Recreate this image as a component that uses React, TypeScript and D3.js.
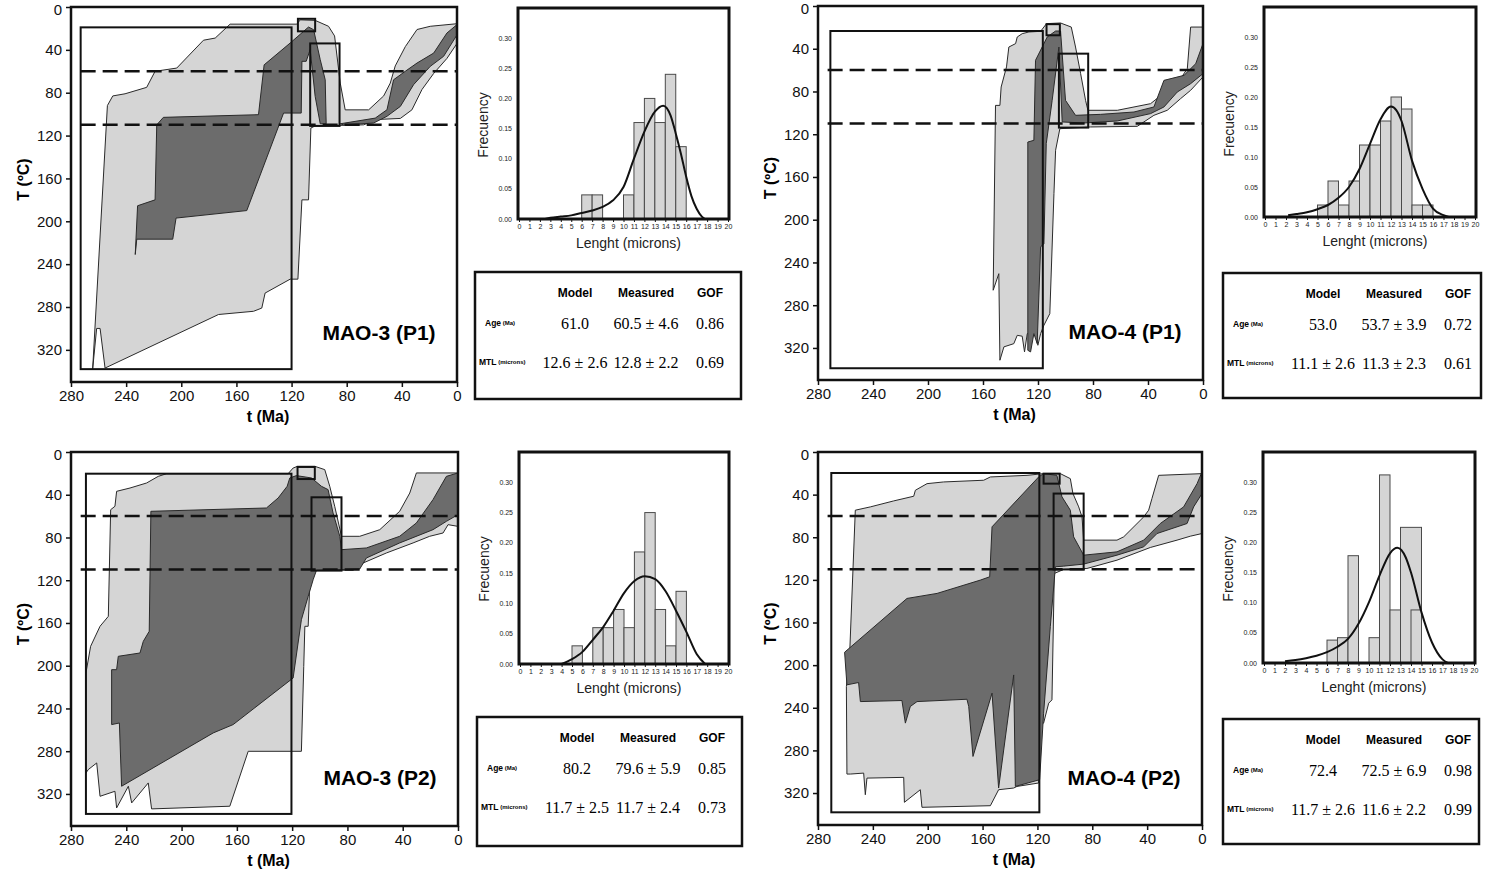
import React, { useEffect, useRef } from "react";
import * as d3 from "d3";

type Pt = [number, number];

// ---- MAO-3 (P1) : envelopes are [t (Ma), T (ºC)] ----
const mao3p1Acceptable: Pt[] = [
  [255.3, 337], [258.9, 300], [261.4, 300], [264.3, 338], [253.6, 92], [249.7, 83], [240.8, 81],
  [225.1, 75], [219, 60], [203.3, 57], [183.9, 31], [175.4, 29], [164.6, 16], [116.2, 16],
  [113.7, 12], [102.9, 12.5], [93.2, 18], [88.8, 27], [84.7, 71], [81.1, 96], [64.1, 96],
  [53.2, 83], [48.4, 71], [44.8, 55], [37.5, 37], [29, 21], [19.4, 18], [0, 15.6], [0, 34],
  [7.3, 48], [16.9, 62], [25.4, 77], [32.7, 96], [41.1, 104], [58.1, 105], [67.8, 110],
  [102.9, 111], [106, 113], [107.7, 180], [112.5, 180], [115.4, 254], [121, 254], [139.2, 267],
  [141.6, 281], [147.6, 284], [173, 287],
];
const mao3p1Good: Pt[][] = [
  [
    [233.4, 231], [231.7, 185.5], [219, 180], [217.8, 110], [213, 103], [144, 100.5], [139.9, 54],
    [121, 33.6], [107.7, 18.7], [104, 21.2], [99.2, 49.2], [95.6, 67.9], [94.9, 109], [99.2, 109],
    [102.9, 83.4], [106.5, 39.8], [109.4, 50.7], [112.5, 50.7], [113, 99], [125.8, 99],
    [152.5, 190], [203.8, 197], [206.2, 216.7], [232.3, 216.7],
  ],
  [
    [84.7, 109], [59.3, 103.7], [50.8, 95.9], [46, 67.9], [37.5, 60], [29, 52.3], [16.9, 43],
    [7.3, 24.3], [0.5, 17], [0, 26], [9.7, 46], [19.4, 55.4], [31.5, 72.5], [41.1, 92.8],
    [50.8, 102], [60.5, 108.3], [82.3, 110],
  ],
];
const mao3p1Boxes = [[273, 120, 19, 338], [115.4, 102.9, 11, 22.7], [106.5, 85.2, 34, 111]];
const mao3p1Bins = [[6, 7, 0.04], [7, 8, 0.04], [10, 11, 0.04], [11, 12, 0.16], [12, 13, 0.2], [13, 14, 0.16], [14, 15, 0.24], [15, 16, 0.12]];
const mao3p1Fit: Pt[] = [
  [2.5, 0], [3, 0.002], [4, 0.004], [5, 0.006], [6, 0.01], [7, 0.014], [8, 0.02], [9, 0.031],
  [10, 0.053], [11, 0.1], [12, 0.145], [13, 0.178], [13.8, 0.188], [14.5, 0.172], [15, 0.142],
  [15.5, 0.108], [16, 0.07], [16.5, 0.038], [17, 0.017], [17.5, 0.004], [17.8, 0],
];
const mao3p1Age = ["61.0", "60.5 ± 4.6", "0.86"];
const mao3p1Mtl = ["12.6 ± 2.6", "12.8 ± 2.2", "0.69"];

// ---- MAO-4 (P1) ----
const mao4p1Acceptable: Pt[] = [
  [147.7, 331.5], [148.5, 250.5], [152.6, 266], [150.9, 93], [147.7, 93], [146.8, 75.8],
  [142.9, 57], [141.2, 38.4], [136.3, 35.2], [135.1, 29], [131.5, 25.9], [126.6, 24.3],
  [118.1, 23.7], [113.8, 16.5], [103.6, 15.9], [95.8, 19.7], [92.7, 38.4], [89, 63.3],
  [85.4, 88.3], [83.7, 97.6], [62.3, 97.6], [38.1, 91.4], [26, 78.9], [16.3, 68], [11.4, 58.6],
  [9, 19.7], [0, 19.7], [0, 66.4], [9, 78.9], [16.3, 86.7], [26, 97.6], [35.7, 102.3],
  [47.8, 112.6], [81.8, 113.2], [104.1, 114.8], [107.2, 135], [108.4, 175.6], [111.4, 287.9],
  [115.7, 298.8], [118.1, 306.6], [120.1, 317.5], [121.8, 304.4], [127.8, 306.6], [129.8, 323.7],
  [131.5, 309], [135.1, 308.2], [137.6, 316], [144.8, 319],
];
const mao4p1Good: Pt[][] = [
  [
    [127.4, 322.2], [127.4, 127.3], [123, 125.7], [121.8, 50.8], [113.3, 29], [107.2, 23.4],
    [103.6, 23.4], [100, 88.3], [92.7, 102.3], [74.5, 101.4], [50.2, 99.2], [35.7, 94.5],
    [28.4, 69.6], [13.8, 64.9], [5.3, 54], [0, 35.2], [0, 63.3], [9, 72.7], [18.7, 80.5],
    [28.4, 94.5], [38.1, 100.7], [62.3, 107.6], [86.6, 109.5], [102.4, 108.5], [104.8, 38.4],
    [109.7, 88.3], [114, 128.8], [115.7, 222.4], [118.1, 225.5], [120.6, 316], [123, 306.6],
    [125.4, 323.7],
  ],
];
const mao4p1Boxes = [[271, 116.5, 23.4, 339], [113.8, 104.1, 17, 27.4], [104.8, 83.5, 44.6, 113.8]];
const mao4p1Bins = [[5, 6, 0.02], [6, 7, 0.06], [7, 8, 0.02], [8, 9, 0.06], [9, 10, 0.12], [10, 11, 0.12], [11, 12, 0.16], [12, 13, 0.2], [13, 14, 0.18], [14, 15, 0.02], [15, 16, 0.02]];
const mao4p1Fit: Pt[] = [
  [2.2, 0.003], [3, 0.005], [4, 0.008], [5, 0.013], [6, 0.02], [7, 0.032], [8, 0.05], [9, 0.08],
  [10, 0.122], [11, 0.163], [12, 0.184], [12.5, 0.178], [13, 0.16], [14, 0.094], [15, 0.047],
  [16, 0.014], [17, 0.003], [17.5, 0],
];
const mao4p1Age = ["53.0", "53.7 ± 3.9", "0.72"];
const mao4p1Mtl = ["11.1 ± 2.6", "11.3 ± 2.3", "0.61"];

// ---- MAO-3 (P2) ----
const mao3p2Acceptable: Pt[] = [
  [269.2, 300.4], [269.2, 206.8], [265.8, 181.8], [259, 163.1], [253, 153.8], [251.3, 54],
  [248.2, 50.8], [247, 36.8], [237.3, 33.7], [225.3, 29], [216.9, 22.8], [210.8, 20.3],
  [122.9, 20.3], [119.3, 15], [116.1, 13.4], [103.6, 13.4], [96.4, 16.5], [92.8, 32.1],
  [89.2, 50.8], [84.3, 78.9], [71.1, 78.9], [56.6, 72.7], [42.2, 55.5], [34.9, 38.4],
  [30.1, 19.6], [0, 19.6], [0, 69.6], [7.2, 68], [10.8, 75.8], [20.5, 78.9], [32.5, 85.1],
  [51.8, 94.5], [68.7, 103.9], [75.9, 110.7], [104.8, 110.7], [107.2, 122.6], [108.4, 163.1],
  [110.8, 163.1], [111.6, 200.6], [113.3, 280.1], [151.8, 280.1], [165.1, 331.5], [221.7, 334],
  [224.1, 309.7], [236.1, 328.4], [238.5, 312.8], [247, 333.1], [248.2, 317.5], [259, 322.2],
  [261.4, 291], [267.5, 297.2],
];
const mao3p2Good: Pt[][] = [
  [
    [243.4, 312.8], [245, 253.6], [250.6, 255.1], [250.6, 203.7], [247, 203.7], [245.8, 191.2],
    [230.1, 188.1], [227.7, 177.2], [223.4, 167.8], [222.2, 55.5], [138.6, 52.4], [130.1, 43],
    [123.6, 32.1], [121.7, 24.3], [116.9, 22.1], [106, 24.3], [98.8, 32.1], [94, 35.2],
    [90.4, 57.1], [85.5, 78.9], [84.3, 91.4], [66.3, 89.8], [42.2, 78.9], [30.1, 66.4],
    [18.1, 44.6], [8.4, 22.8], [0, 19.6], [0, 58.6], [8.4, 64.9], [18.1, 72.7], [42.2, 85.1],
    [66.3, 99.2], [71.1, 109.5], [102.4, 110.7], [104.8, 119.5], [108.4, 135.1], [113.3, 156.9],
    [119.3, 211.5], [162.7, 255.1], [177.1, 262.9],
  ],
];
const mao3p2Boxes = [[269.2, 120.5, 20.3, 338.7], [116.1, 103.6, 14, 25.3], [106, 84.3, 42.4, 111]];
const mao3p2Bins = [[5, 6, 0.03], [7, 8, 0.06], [8, 9, 0.06], [9, 10, 0.09], [10, 11, 0.06], [11, 12, 0.185], [12, 13, 0.25], [13, 14, 0.09], [14, 15, 0.03], [15, 16, 0.12]];
const mao3p2Fit: Pt[] = [
  [4, 0], [5, 0.008], [6, 0.02], [7, 0.04], [8, 0.061], [9, 0.088], [10, 0.117], [11, 0.137],
  [12, 0.145], [13, 0.14], [14, 0.12], [15, 0.088], [16, 0.053], [17, 0.016], [17.8, 0],
];
const mao3p2Age = ["80.2", "79.6 ± 5.9", "0.85"];
const mao3p2Mtl = ["11.7 ± 2.5", "11.7 ± 2.4", "0.73"];

// ---- MAO-4 (P2) ----
const mao4p2Acceptable: Pt[] = [
  [258.9, 302.2], [259.3, 220.1], [256.9, 188.9], [252.8, 54.6], [241.8, 51.5], [224.8, 45.9],
  [210.2, 41.5], [209, 35.9], [200.5, 29.7], [188.4, 28.1], [159.2, 26.5], [154.3, 23.4],
  [127.6, 21.9], [115.5, 20.3], [103.3, 20.3], [96, 25], [94.1, 39], [89.9, 51.5], [87.5, 60.9],
  [86.3, 82.7], [62, 82.7], [57.1, 79.6], [42.5, 60.9], [38.9, 54.6], [36.5, 43.7], [31.6, 21.9],
  [0, 20.3], [0, 76.5], [8.5, 79], [18.2, 82.7], [37.7, 89.6], [62, 101.5], [83.9, 109.3],
  [100.9, 110.2], [107.7, 114], [109.4, 232.6], [111.8, 235.7], [115.5, 254.4], [119.1, 257.6],
  [119.1, 310.6], [134.9, 313.8], [137.3, 315.3], [148.3, 316.9], [154.3, 331.9], [204.2, 333.4],
  [205.4, 316.9], [217, 328.7], [217.5, 305.3], [244.3, 306], [245.5, 321.6], [246.7, 301.3],
  [256.4, 302.2],
];
const mao4p2Good: Pt[][] = [
  [
    [260.6, 187.9], [215.1, 137.4], [193.2, 132.7], [161.6, 120.2], [154.8, 117.1], [153.1, 70.2],
    [119.1, 23.4], [115.5, 20.3], [105.8, 21.9], [102.1, 42.1], [96, 54.6], [93.6, 79.6],
    [86.3, 96.8], [62, 93.7], [42.5, 82.7], [30.4, 67.1], [13.4, 51.5], [3.6, 29.7], [0, 18.7],
    [0, 39], [6.1, 51.5], [10.9, 67.1], [32.8, 76.5], [42.5, 89], [62, 96.8], [86.3, 105.2],
    [100.9, 107.1], [106.9, 107.7], [110.6, 163.9], [115.5, 245.1], [118.4, 307.5], [136.1, 313.8],
    [137.3, 209.2], [148.3, 315.3], [153.1, 226.3], [167, 285.7], [170.1, 238.8], [171.4, 232],
    [207.8, 234.2], [212.7, 238.8], [216.3, 254.4], [218.8, 233.2], [249.1, 234.2], [250.4, 216.3],
    [258.9, 218.5],
  ],
];
const mao4p2Boxes = [[270.3, 118.6, 19.7, 338.1], [115.5, 103.8, 20.3, 29.7], [108.2, 86.3, 39, 110.2]];
const mao4p2Bins = [[6, 7, 0.038], [7, 8, 0.042], [8, 9, 0.178], [10, 11, 0.042], [11, 12, 0.312], [12, 13, 0.088], [13, 15, 0.225], [14, 15, 0.088]];
const mao4p2Fit: Pt[] = [
  [2, 0.003], [3, 0.005], [4, 0.008], [5, 0.012], [6, 0.018], [7, 0.027], [8, 0.04], [9, 0.065],
  [10, 0.101], [11, 0.145], [12, 0.182], [12.7, 0.191], [13.5, 0.175], [14, 0.15], [15, 0.084],
  [16, 0.034], [17, 0.006], [17.5, 0],
];
const mao4p2Age = ["72.4", "72.5 ± 6.9", "0.98"];
const mao4p2Mtl = ["11.7 ± 2.6", "11.6 ± 2.2", "0.99"];

// shared ticks / reference lines
const timeTicks = [280, 240, 200, 160, 120, 80, 40, 0];
const tempTicks = [0, 40, 80, 120, 160, 200, 240, 280, 320];
const pazLines = [60, 110];
const lengthTicks = [0, 1, 2, 3, 4, 5, 6, 7, 8, 9, 10, 11, 12, 13, 14, 15, 16, 17, 18, 19, 20];
const freqTicks = [0, 0.05, 0.1, 0.15, 0.2, 0.25, 0.3];
const tableHeads = ["Model", "Measured", "GOF"];

const samples = [
  { name: "MAO-3 (P1)", acceptable: mao3p1Acceptable, good: mao3p1Good, boxes: mao3p1Boxes, bins: mao3p1Bins, fit: mao3p1Fit, age: mao3p1Age, mtl: mao3p1Mtl },
  { name: "MAO-4 (P1)", acceptable: mao4p1Acceptable, good: mao4p1Good, boxes: mao4p1Boxes, bins: mao4p1Bins, fit: mao4p1Fit, age: mao4p1Age, mtl: mao4p1Mtl },
  { name: "MAO-3 (P2)", acceptable: mao3p2Acceptable, good: mao3p2Good, boxes: mao3p2Boxes, bins: mao3p2Bins, fit: mao3p2Fit, age: mao3p2Age, mtl: mao3p2Mtl },
  { name: "MAO-4 (P2)", acceptable: mao4p2Acceptable, good: mao4p2Good, boxes: mao4p2Boxes, bins: mao4p2Bins, fit: mao4p2Fit, age: mao4p2Age, mtl: mao4p2Mtl },
];

// pixel layout of each block: frame [x0,x1,y0,y(350ºC)], hist [x0,x1,y0,y1], table [x,y,w,h]
const layouts = [
  { frame: [71, 457, 7, 382], hist: [518, 729, 8, 219], table: [475, 272, 266, 127] },
  { frame: [818, 1203, 6, 380], hist: [1264, 1476, 7, 217], table: [1223, 273, 258, 125] },
  { frame: [71, 458, 452, 826], hist: [519, 729, 452, 664], table: [477, 717, 265, 129] },
  { frame: [818, 1202, 452, 825], hist: [1263, 1475, 452, 663], table: [1223, 719, 256, 125] },
];

const SANS = "'Liberation Sans', Arial, Helvetica, sans-serif";
const SERIF = "'Liberation Serif', 'Times New Roman', serif";
const LIGHT = "#d5d5d5";
const DARK = "#6c6c6c";
const EDGE = "#2a2a2a";

const drawPanel = (svg, lay, s) => {
  const [x0, x1, y0, y1] = lay.frame;
  const x = d3.scaleLinear().domain([280, 0]).range([x0, x1]);
  const y = d3.scaleLinear().domain([0, 350]).range([y0, y1]);
  const poly = d3
    .line<Pt>()
    .x((d) => x(d[0]))
    .y((d) => y(d[1]))
    .curve(d3.curveLinearClosed);

  const g = svg.append("g");
  g.append("path")
    .attr("d", poly(s.acceptable))
    .attr("fill", LIGHT)
    .attr("stroke", EDGE)
    .attr("stroke-width", 1);

  s.good.forEach((p) => {
    g.append("path")
      .attr("d", poly(p))
      .attr("fill", DARK)
      .attr("stroke", EDGE)
      .attr("stroke-width", 1);
  });

  s.boxes.forEach((b) => {
    g.append("rect")
      .attr("x", x(b[0]))
      .attr("y", y(b[2]))
      .attr("width", x(b[1]) - x(b[0]))
      .attr("height", y(b[3]) - y(b[2]))
      .attr("fill", "none")
      .attr("stroke", "#111")
      .attr("stroke-width", 2);
  });

  pazLines.forEach((T) => {
    g.append("line")
      .attr("x1", x(273))
      .attr("x2", x(0))
      .attr("y1", y(T))
      .attr("y2", y(T))
      .attr("stroke", "#111")
      .attr("stroke-width", 2.5)
      .attr("stroke-dasharray", "15,7");
  });

  g.append("rect")
    .attr("x", x0)
    .attr("y", y0)
    .attr("width", x1 - x0)
    .attr("height", y1 - y0)
    .attr("fill", "none")
    .attr("stroke", "#111")
    .attr("stroke-width", 2.5);

  const xAxis = g
    .append("g")
    .attr("transform", `translate(0, ${y1})`)
    .call(d3.axisBottom(x).tickValues(timeTicks).tickSize(5).tickPadding(3).tickFormat(d3.format("d")));
  const yAxis = g
    .append("g")
    .attr("transform", `translate(${x0}, 0)`)
    .call(d3.axisLeft(y).tickValues(tempTicks).tickSize(5).tickPadding(4).tickFormat(d3.format("d")));
  [xAxis, yAxis].forEach((a) => {
    a.select(".domain").remove();
    a.selectAll("line").attr("stroke", "#111").attr("stroke-width", 1.5);
    a.selectAll("text").attr("font-size", 15).attr("font-family", SANS).attr("fill", "#111");
  });
  // keep the top "0" inside the page
  yAxis
    .selectAll("text")
    .filter((d) => d === 0)
    .attr("y", 3);

  g.append("text")
    .attr("x", (x0 + x1) / 2 + 4)
    .attr("y", y1 + 40)
    .attr("text-anchor", "middle")
    .attr("font-family", SANS)
    .attr("font-weight", "bold")
    .attr("font-size", 16)
    .text("t (Ma)");

  const cy = y0 + 0.46 * (y1 - y0);
  g.append("text")
    .attr("transform", `translate(${x0 - 48}, ${cy}) rotate(-90)`)
    .attr("text-anchor", "middle")
    .attr("dominant-baseline", "central")
    .attr("font-family", SANS)
    .attr("font-weight", "bold")
    .attr("font-size", 16)
    .text("T (ºC)");

  g.append("text")
    .attr("x", x1 - 78)
    .attr("y", y0 + 333)
    .attr("text-anchor", "middle")
    .attr("font-family", SANS)
    .attr("font-weight", "bold")
    .attr("font-size", 21)
    .text(s.name);
};

const drawHist = (svg, lay, s) => {
  const [x0, x1, y0, y1] = lay.hist;
  const x = d3.scaleLinear().domain([0, 20]).range([x0 + 1, x1 - 1]);
  const y = d3.scaleLinear().domain([0, 0.35]).range([y1, y0]);
  const g = svg.append("g");

  s.bins.forEach((b) => {
    g.append("rect")
      .attr("x", x(b[0]))
      .attr("y", y(b[2]))
      .attr("width", x(b[1]) - x(b[0]))
      .attr("height", y(0) - y(b[2]))
      .attr("fill", LIGHT)
      .attr("stroke", "#4a4a4a")
      .attr("stroke-width", 1);
  });

  const fitLine = d3
    .line<Pt>()
    .x((d) => x(d[0]))
    .y((d) => y(d[1]))
    .curve(d3.curveMonotoneX);
  g.append("path")
    .attr("d", fitLine(s.fit))
    .attr("fill", "none")
    .attr("stroke", "#111")
    .attr("stroke-width", 2);

  g.append("rect")
    .attr("x", x0)
    .attr("y", y0)
    .attr("width", x1 - x0)
    .attr("height", y1 - y0)
    .attr("fill", "none")
    .attr("stroke", "#111")
    .attr("stroke-width", 3);

  const xAxis = g
    .append("g")
    .attr("transform", `translate(0, ${y1})`)
    .call(d3.axisBottom(x).tickValues(lengthTicks).tickSize(3).tickPadding(2).tickFormat(d3.format("d")));
  xAxis.select(".domain").remove();
  xAxis.selectAll("line").attr("stroke", "#111");
  xAxis.selectAll("text").attr("font-size", 7).attr("font-family", SANS).attr("fill", "#222");

  g.selectAll(".ylab")
    .data(freqTicks)
    .enter()
    .append("text")
    .attr("x", x0 - 6)
    .attr("y", (d) => y(d))
    .attr("text-anchor", "end")
    .attr("dominant-baseline", "central")
    .attr("font-size", 7)
    .attr("font-family", SANS)
    .attr("fill", "#222")
    .text((d) => d3.format(".2f")(d));

  g.append("text")
    .attr("transform", `translate(${x0 - 35}, ${y0 + 117}) rotate(-90)`)
    .attr("text-anchor", "middle")
    .attr("dominant-baseline", "central")
    .attr("font-family", SANS)
    .attr("font-size", 14)
    .attr("fill", "#222")
    .text("Frecuency");

  g.append("text")
    .attr("x", (x0 + x1) / 2 + 5)
    .attr("y", y1 + 29)
    .attr("text-anchor", "middle")
    .attr("font-family", SANS)
    .attr("font-size", 14)
    .attr("fill", "#222")
    .text("Lenght (microns)");
};

const drawTable = (svg, lay, s) => {
  const [tx, ty, tw, th] = lay.table;
  const cols = [tx + 100, tx + 171, tx + 235];
  const g = svg.append("g");
  g.append("rect")
    .attr("x", tx)
    .attr("y", ty)
    .attr("width", tw)
    .attr("height", th)
    .attr("fill", "none")
    .attr("stroke", "#111")
    .attr("stroke-width", 2.5);

  tableHeads.forEach((h, i) => {
    g.append("text")
      .attr("x", cols[i])
      .attr("y", ty + 21)
      .attr("text-anchor", "middle")
      .attr("dominant-baseline", "central")
      .attr("font-family", SANS)
      .attr("font-weight", "bold")
      .attr("font-size", 12)
      .text(h);
  });

  const rows = [
    { label: "Age", unit: " (Ma)", vals: s.age, dy: 51, lx: 10 },
    { label: "MTL", unit: " (microns)", vals: s.mtl, dy: 90, lx: 4 },
  ];
  rows.forEach((r) => {
    const t = g
      .append("text")
      .attr("x", tx + r.lx)
      .attr("y", ty + r.dy)
      .attr("dominant-baseline", "central")
      .attr("font-family", SANS)
      .attr("font-weight", "bold");
    t.append("tspan").attr("font-size", 8.5).text(r.label);
    t.append("tspan").attr("font-size", 6).text(r.unit);
    r.vals.forEach((v, i) => {
      g.append("text")
        .attr("x", cols[i])
        .attr("y", ty + r.dy)
        .attr("text-anchor", "middle")
        .attr("dominant-baseline", "central")
        .attr("font-family", SERIF)
        .attr("font-size", 16)
        .text(v);
    });
  });
};

const App = () => {
  const svgRef = useRef(null);
  const width = 1485;
  const height = 871;

  useEffect(() => {
    const svg = d3.select(svgRef.current);
    svg.selectAll("*").remove();
    samples.forEach((s, i) => {
      drawPanel(svg, layouts[i], s);
      drawHist(svg, layouts[i], s);
      drawTable(svg, layouts[i], s);
    });
  }, []);

  return (
    <svg
      ref={svgRef}
      width={width}
      height={height}
      style={{ position: "absolute", left: 0, top: 0, background: "#fff" }}
    />
  );
};

export default App;
